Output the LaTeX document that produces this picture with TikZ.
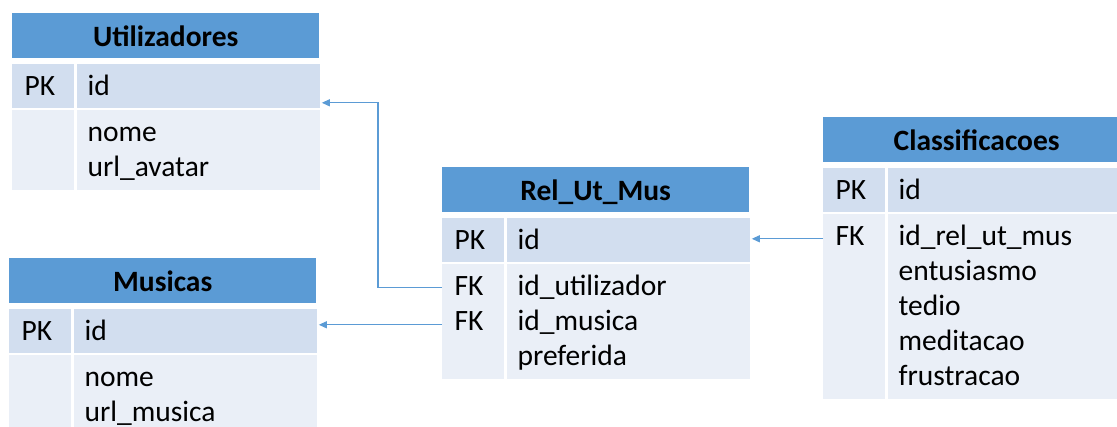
\documentclass[tikz,border=0pt]{standalone}
\usepackage{fontspec}
\setmainfont{Carlito}
\usetikzlibrary{arrows.meta,positioning}
\definecolor{hdrblue}{HTML}{5B9BD5}
\definecolor{pkblue}{HTML}{D2DEEF}
\definecolor{rowblue}{HTML}{EAEFF7}
\tikzset{
    %Define standard arrow tip
    >={Triangle[length=8pt,width=7pt]},
    %Define style for table headers
    tblhead/.style={
             anchor=north west,
             fill=hdrblue,
             minimum width=307pt,
             inner sep=0pt,
             text height=33pt, text depth=12pt,
             font=\fontsize{29.5}{35}\selectfont\bfseries},
    % Define style for key and field cells
    keycell/.style={
             anchor=north west,
             text width=37pt, inner xsep=12.5pt, inner ysep=0pt,
             align=left, text height=32pt,
             font=\fontsize{29.5}{35}\selectfont},
    fieldcell/.style={
             text width=221pt, inner xsep=11pt, inner ysep=0pt,
             align=left, text height=32pt,
             font=\fontsize{29.5}{35}\selectfont},
    pkrow/.style={fill=pkblue, text depth=12pt},
    bodyrow/.style={fill=rowblue, text depth=#1},
    % Define arrow style
    fkarrow/.style={
            ->,
            draw=hdrblue,
            line width=1.1pt}
}
\begin{document}
\begin{tikzpicture}[x=1pt, y=-1pt]
 \useasboundingbox (0,0) rectangle (1117,427);
 \clip (0,0) rectangle (1117,427);
 % Utilizadores
 \node[tblhead] (uhead) at (12,13) {Utilizadores};
 \node[keycell, pkrow, below right=5pt and 0pt of uhead.south west] (upkkey) {PK};
 \node[fieldcell, pkrow, right=2pt of upkkey] (upkfield) {id};
 \node[keycell, bodyrow=48pt, below right=2pt and 0pt of upkkey.south west] (ubkey) {};
 \node[fieldcell, bodyrow=48pt, right=2pt of ubkey] (ubfield) {nome\\url\_avatar};
 % Musicas
 \node[tblhead] (mhead) at (9,258) {Musicas};
 \node[keycell, pkrow, below right=5pt and 0pt of mhead.south west] (mpkkey) {PK};
 \node[fieldcell, pkrow, right=2pt of mpkkey] (mpkfield) {id};
 \node[keycell, bodyrow=48pt, below right=2pt and 0pt of mpkkey.south west] (mbkey) {};
 \node[fieldcell, bodyrow=48pt, right=2pt of mbkey] (mbfield) {nome\\url\_musica};
 % Rel_Ut_Mus
 \node[tblhead] (rhead) at (442,167) {Rel\_Ut\_Mus};
 \node[keycell, pkrow, below right=5pt and 0pt of rhead.south west] (rpkkey) {PK};
 \node[fieldcell, pkrow, right=2pt of rpkkey] (rpkfield) {id};
 \node[keycell, bodyrow=83pt, below right=2pt and 0pt of rpkkey.south west] (rbkey) {FK\\FK};
 \node[fieldcell, bodyrow=83pt, right=2pt of rbkey] (rbfield) {id\_utilizador\\id\_musica\\preferida};
 % Classificacoes
 \node[tblhead] (chead) at (823,117) {Classificacoes};
 \node[keycell, pkrow, below right=5pt and 0pt of chead.south west] (cpkkey) {PK};
 \node[fieldcell, pkrow, right=2pt of cpkkey] (cpkfield) {id};
 \node[keycell, bodyrow=153pt, below right=2pt and 0pt of cpkkey.south west] (cbkey) {FK};
 \node[fieldcell, bodyrow=153pt, right=2pt of cbkey] (cbfield) {id\_rel\_ut\_mus\\entusiasmo\\tedio\\meditacao\\frustracao};
 % foreign keys
 \coordinate (fkut) at ([yshift=-24pt]rbkey.north west);
 \coordinate (fkmus) at ([yshift=-61pt]rbkey.north west);
 \coordinate (fkrel) at ([yshift=-25pt]cbkey.north west);
 \draw[fkarrow] (fkut) -- ++(-64,0) |- ([xshift=2pt,yshift=5pt]upkfield.south east);
 \draw[fkarrow] (fkmus) -- ([xshift=2pt]fkmus -| mpkfield.east);
 \draw[fkarrow] (fkrel) -- ([xshift=2pt]fkrel -| rpkfield.east);
\end{tikzpicture}
\end{document}
